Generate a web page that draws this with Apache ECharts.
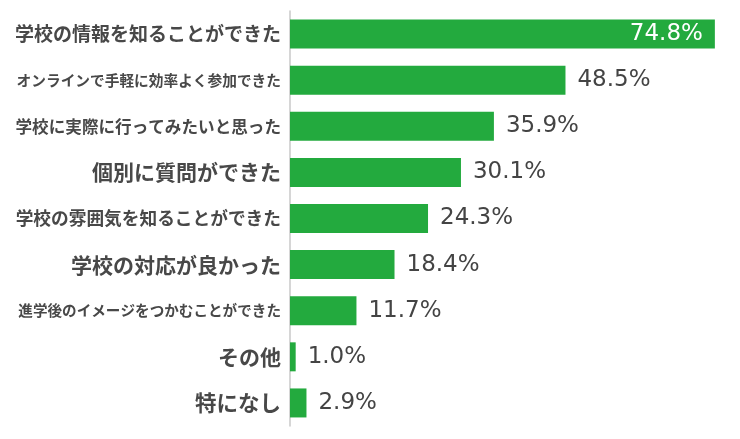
<!DOCTYPE html>
<html>
<head>
<meta charset="utf-8">
<script src="https://cdn.jsdelivr.net/npm/echarts@6/dist/echarts.min.js"></script>
<style>
html,body{margin:0;padding:0;background:#fff;}
#main{width:740px;height:439px;}
</style>
</head>
<body>
<div id="main"></div>
<script>
var categories = [
  '学校の情報を知ることができた',
  'オンラインで手軽に効率よく参加できた',
  '学校に実際に行ってみたいと思った',
  '個別に質問ができた',
  '学校の雰囲気を知ることができた',
  '学校の対応が良かった',
  '進学後のイメージをつかむことができた',
  'その他',
  '特になし'
];
var values = [74.8, 48.5, 35.9, 30.1, 24.3, 18.4, 11.7, 1.0, 2.9];
var labelSizes = [19, 14.7, 16.6, 21, 17.7, 21, 14.6, 21, 21.5];

var rich = {};
labelSizes.forEach(function (s, i) {
  rich['l' + i] = {
    fontSize: s,
    fontWeight: 'bold',
    color: '#484848',
    fontFamily: '"Noto Sans CJK JP", sans-serif'
  };
});

var chart = echarts.init(document.getElementById('main'));
chart.setOption({
  animation: false,
  grid: { left: 290, right: 24, top: 11, bottom: 13, containLabel: false },
  xAxis: {
    type: 'value', min: 0, max: 75, show: false
  },
  yAxis: {
    type: 'category',
    inverse: true,
    data: categories,
    axisLine: { show: true, lineStyle: { color: '#c8c8c8', width: 1.5 } },
    axisTick: { show: false },
    axisLabel: {
      margin: 9,
      formatter: function (v, i) { return '{l' + i + '|' + v + '}'; },
      rich: rich
    }
  },
  series: [{
    type: 'bar',
    data: values.map(function (v, i) {
      var d = { value: v };
      if (i === 0) {
        d.label = { position: 'insideRight', distance: 12, color: '#fff' };
      }
      return d;
    }),
    barWidth: 29,
    itemStyle: { color: '#23aa3e' },
    label: {
      show: true,
      position: 'right',
      distance: 12,
      color: '#444',
      fontSize: 23,
      fontFamily: '"DejaVu Sans", sans-serif',
      formatter: function (p) { return p.value.toFixed(1) + '%'; }
    }
  }]
});
</script>
</body>
</html>
